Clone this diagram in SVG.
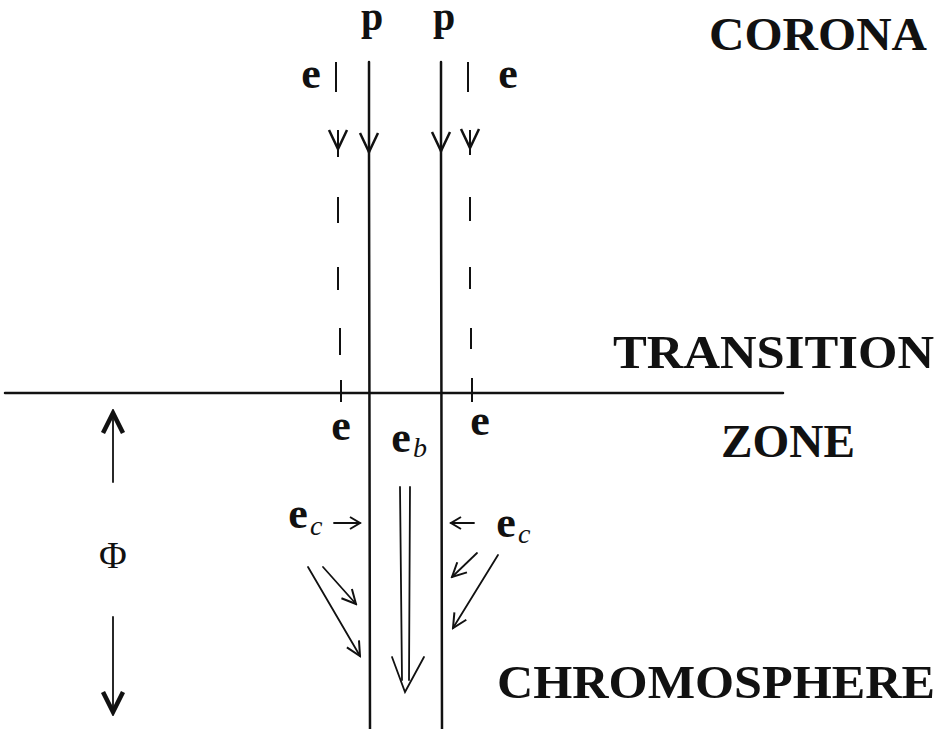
<svg xmlns="http://www.w3.org/2000/svg" width="943" height="729" viewBox="0 0 943 729">
<style>
.lbl{font-family:"Liberation Serif","DejaVu Serif",serif;font-weight:bold;fill:#111}
.big{font-size:46px}
.sym{font-size:44px}
.ps{font-size:40px}
.sub{font-family:"Liberation Serif","DejaVu Serif",serif;font-style:italic;font-weight:normal;font-size:28px;fill:#111}
.phi{font-family:"Liberation Serif","DejaVu Serif",serif;font-size:38px;fill:#111}
.ln{stroke:#111;stroke-width:2.5;fill:none;stroke-linecap:round}
.dash{stroke:#111;stroke-width:2;fill:none}
.thin{stroke:#111;stroke-width:1.8;fill:none;stroke-linecap:round}
</style>
<defs>
<marker id="head" markerUnits="userSpaceOnUse" viewBox="-22 -12 26 24" refX="0" refY="0" markerWidth="26" markerHeight="24" orient="auto">
<path d="M-19,-9 L0,0 L-19,9" fill="none" stroke="#111" stroke-width="2.5" stroke-linejoin="miter"/>
</marker>
<marker id="small" markerUnits="userSpaceOnUse" viewBox="-12 -8 14 16" refX="0" refY="0" markerWidth="14" markerHeight="16" orient="auto">
<path d="M-10,-6 L0,0 L-10,6" fill="none" stroke="#111" stroke-width="2"/>
</marker>
<marker id="diag" markerUnits="userSpaceOnUse" viewBox="-18 -10 20 20" refX="0" refY="0" markerWidth="20" markerHeight="20" orient="auto">
<path d="M-14,-7 L0,0 L-14,7" fill="none" stroke="#111" stroke-width="2"/>
</marker>
<marker id="bold" markerUnits="userSpaceOnUse" viewBox="-26 -14 30 28" refX="0" refY="0" markerWidth="30" markerHeight="28" orient="auto">
<path d="M-20,-10 L0,0 L-20,10" fill="none" stroke="#111" stroke-width="4.5" stroke-linejoin="miter"/>
</marker>
</defs>

<g id="connectors">
<!-- horizontal boundary -->
<line class="ln" x1="5" y1="393" x2="783" y2="393"/>
<!-- solid proton lines -->
<line class="ln" x1="369" y1="62" x2="369" y2="152" marker-end="url(#head)"/>
<line class="ln" x1="369" y1="152" x2="370" y2="729"/>
<line class="ln" x1="441" y1="62" x2="441" y2="151" marker-end="url(#head)"/>
<line class="ln" x1="441" y1="151" x2="442" y2="729"/>
<!-- left dashed electron line -->
<g class="dash">
<line x1="336" y1="62" x2="336" y2="92"/>
<line x1="338" y1="130" x2="338" y2="149" marker-end="url(#head)"/>
<line x1="338" y1="149" x2="338" y2="157"/>
<line x1="338" y1="197" x2="338" y2="223"/>
<line x1="338" y1="267" x2="338" y2="290"/>
<line x1="340" y1="328" x2="340" y2="355"/>
<line x1="341" y1="380" x2="341" y2="402"/>
</g>
<!-- right dashed electron line -->
<g class="dash">
<line x1="468" y1="62" x2="468" y2="92"/>
<line x1="470" y1="130" x2="470" y2="148" marker-end="url(#head)"/>
<line x1="470" y1="148" x2="470" y2="155"/>
<line x1="470" y1="197" x2="470" y2="221"/>
<line x1="470" y1="267" x2="470" y2="289"/>
<line x1="471" y1="328" x2="471" y2="349"/>
<line x1="472" y1="378" x2="472" y2="402"/>
</g>
<!-- e_c horizontal arrows -->
<line class="thin" x1="334" y1="523" x2="360" y2="523" marker-end="url(#small)"/>
<line class="thin" x1="474" y1="523" x2="451" y2="523" marker-end="url(#small)"/>
<!-- diagonal arrows -->
<line class="thin" x1="323" y1="567" x2="356" y2="604" marker-end="url(#diag)"/>
<line class="thin" x1="308" y1="567" x2="360" y2="656" marker-end="url(#diag)"/>
<line class="thin" x1="477" y1="553" x2="452" y2="577" marker-end="url(#diag)"/>
<line class="thin" x1="498" y1="555" x2="453" y2="628" marker-end="url(#diag)"/>
<!-- big double arrow e_b -->
<line class="thin" x1="400" y1="487" x2="402" y2="680"/>
<line class="thin" x1="410" y1="487" x2="409" y2="680"/>
<polyline class="thin" points="392,657 405,692 424,657"/>
<!-- Phi arrows -->
<line class="thin" x1="113" y1="482" x2="113" y2="413" marker-end="url(#bold)"/>
<line class="thin" x1="113" y1="617" x2="113" y2="712" marker-end="url(#bold)"/>
</g>

<g id="corona"><text class="lbl big" x="709" y="50" textLength="218" lengthAdjust="spacingAndGlyphs">CORONA</text></g>
<g id="transition"><text class="lbl big" x="613" y="368" textLength="321" lengthAdjust="spacingAndGlyphs">TRANSITION</text></g>
<g id="zone"><text class="lbl big" x="721" y="457" textLength="134" lengthAdjust="spacingAndGlyphs">ZONE</text></g>
<g id="chromosphere"><text class="lbl big" x="497" y="698" textLength="438" lengthAdjust="spacingAndGlyphs">CHROMOSPHERE</text></g>

<g id="p-left"><text class="lbl ps" x="372" y="30" text-anchor="middle">p</text></g>
<g id="p-right"><text class="lbl ps" x="444" y="30" text-anchor="middle">p</text></g>
<g id="e-top-left"><text class="lbl sym" x="311" y="88" text-anchor="middle">e</text></g>
<g id="e-top-right"><text class="lbl sym" x="508" y="88" text-anchor="middle">e</text></g>
<g id="e-bot-left"><text class="lbl sym" x="341" y="440" text-anchor="middle">e</text></g>
<g id="e-bot-right"><text class="lbl sym" x="480" y="435" text-anchor="middle">e</text></g>
<g id="e-b"><text class="lbl sym" x="401" y="452" text-anchor="middle">e</text><text class="sub" x="413" y="457">b</text></g>
<g id="e-c-left"><text class="lbl sym" x="298" y="528" text-anchor="middle">e</text><text class="sub" x="310" y="535">c</text></g>
<g id="e-c-right"><text class="lbl sym" x="506" y="537" text-anchor="middle">e</text><text class="sub" x="518" y="543">c</text></g>
<g id="phi"><text class="phi" x="113" y="568" text-anchor="middle">Φ</text></g>
</svg>
